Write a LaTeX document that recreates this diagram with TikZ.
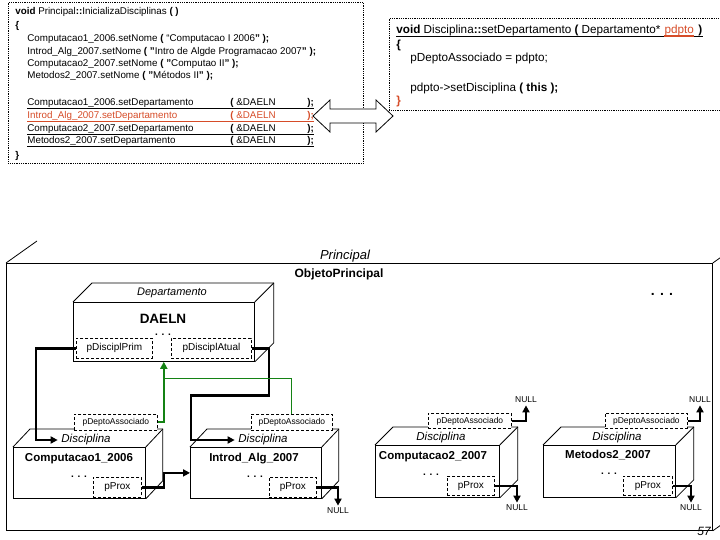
\documentclass[tikz,border=0pt]{standalone}
\usepackage{fontspec}
\setmainfont{Liberation Sans}
\usetikzlibrary{positioning,arrows.meta}

\definecolor{codered}{RGB}{214,76,40}
\definecolor{assocgreen}{RGB}{20,130,20}

% back edges of a box drawn in perspective
\newcommand{\boxdepth}[3]{%
  \draw (#1.north west) -- ++(#2,-#3) -- ([shift={(#2,-#3)}]#1.north east)
        -- ([shift={(#2,-#3)}]#1.south east) -- (#1.south east);
  \draw (#1.north east) -- ++(#2,-#3);}

\begin{document}
\begin{tikzpicture}[x=1pt,y=-1pt,line width=0.8pt]
  \tikzstyle{face} = [rectangle, draw, fill=white, inner sep=0pt, anchor=north west]
  \tikzstyle{field} = [rectangle, draw, dash pattern=on 3pt off 2pt, fill=white, inner sep=0pt, anchor=north west, font=\fontsize{10}{12}\selectfont]
  \tikzstyle{smallfield} = [field, font=\fontsize{8.5}{10}\selectfont]
  \tikzstyle{link} = [line width=2.4pt, ->, >={Triangle[length=7pt,width=7pt]}]
  \tikzstyle{assoc} = [assocgreen, line width=2pt, ->, >={Triangle[length=7pt,width=7pt]}]
  \tikzstyle{code} = [inner sep=0pt, anchor=base west, font=\fontsize{9.8}{12}\selectfont]
  \tikzstyle{codebig} = [inner sep=0pt, anchor=base west, font=\fontsize{11.7}{13}\selectfont]
  \tikzstyle{uline} = [line width=1.6pt]
  \tikzstyle{classlbl} = [font=\itshape\fontsize{11.5}{13}\selectfont]
  \tikzstyle{objname} = [font=\bfseries\fontsize{11.5}{13}\selectfont]
  \tikzstyle{more} = [font=\bfseries\fontsize{10}{12}\selectfont, inner sep=0pt]
  \tikzstyle{nulllbl} = [font=\fontsize{8.5}{9}\selectfont, inner sep=2pt]

  \useasboundingbox (0,0) rectangle (720,540);

  % code of Principal
  \node[draw, densely dotted, inner sep=0pt, anchor=north west, minimum width=355pt, minimum height=161pt] (code1) at (8,2) {};
  \node[code] (l1) at (15,15) {\textbf{void} Principal\textbf{::}InicializaDisciplinas \textbf{( )}};
  \node[code] (l2) at (15,29) {\textbf{\{}};
  \node[code] (l3) at (27,42) {Computacao1\_2006.setNome \textbf{(} “Computacao I 2006\textbf{"} \textbf{);}};
  \node[code] (l4) at (27,55) {Introd\_Alg\_2007.setNome \textbf{( "}Intro de Algde Programacao 2007\textbf{" );}};
  \node[code] (l5) at (27,67) {Computacao2\_2007.setNome \textbf{( "}Computao II\textbf{" );}};
  \node[code] (l6) at (27,79) {Metodos2\_2007.setNome \textbf{( "}Métodos II\textbf{" );}};
  \node[code] (d1) at (27,106) {\makebox[203pt][l]{Computacao1\_2006.setDepartamento}\makebox[77pt][l]{\textbf{(} \&DAELN}\textbf{);}};
  \node[code, text=codered] (d2) at (27,119) {\makebox[203pt][l]{Introd\_Alg\_2007.setDepartamento}\makebox[77pt][l]{\textbf{(} \&DAELN}\textbf{);}};
  \node[code] (d3) at (27,132) {\makebox[203pt][l]{Computacao2\_2007.setDepartamento}\makebox[77pt][l]{\textbf{(} \&DAELN}\textbf{);}};
  \node[code] (d4) at (27,144) {\makebox[203pt][l]{Metodos2\_2007.setDepartamento}\makebox[77pt][l]{\textbf{(} \&DAELN}\textbf{);}};
  \node[code] (l7) at (15,159) {\textbf{\}}};
  \draw[uline] ([yshift=-2.5pt]d1.base west) -- ([yshift=-2.5pt]d1.base east);
  \draw[uline, codered] ([yshift=-2.5pt]d2.base west) -- ([yshift=-2.5pt]d2.base east);
  \draw[uline] ([yshift=-2.5pt]d3.base west) -- ([yshift=-2.5pt]d3.base east);
  \draw[uline] ([yshift=-2.5pt]d4.base west) -- ([yshift=-2.5pt]d4.base east);

  % code of Disciplina
  \node[draw, densely dotted, inner sep=0pt, anchor=north west, minimum width=340pt, minimum height=92pt] (code2) at (389,18) {};
  \node[codebig] (s1) at (396,34) {\textbf{void} Disciplina\textbf{::}setDepartamento \textbf{(} Departamento*};
  \node[codebig, text=codered, anchor=base west] (s2) at ([xshift=3.5pt]s1.base east) {pdpto};
  \node[codebig, anchor=base west] (s3) at ([xshift=3.5pt]s2.base east) {\textbf{)}};
  \draw[uline] ([yshift=-2.5pt]s1.base west) -- ([yshift=-2.5pt]s3.base east);
  \draw[uline, codered, line width=2pt] ([yshift=-2.5pt]s2.base west) -- ([yshift=-2.5pt]s2.base east);
  \node[codebig] (s4) at (396,49) {\textbf{\{}};
  \node[codebig] (s5) at (410,62) {pDeptoAssociado = pdpto;};
  \node[codebig] (s6) at (410,92) {pdpto->setDisciplina \textbf{( this );}};
  \node[codebig, text=codered] (s7) at (396,105) {\textbf{\}}};

  % seta dupla entre os codigos
  \draw[fill=white] (313,116) -- (330,100) -- (330,109) -- (376,109) -- (376,100) -- (393,116)
    -- (376,132) -- (376,123) -- (330,123) -- (330,132) -- cycle;

  % objeto principal
  \node[face, minimum width=706pt, minimum height=267pt] (princ) at (6,263) {};
  \draw (princ.north west) -- ++(31,-22);
  \draw (princ.north east) -- ++(31,-22);
  \draw (princ.south east) -- ++(31,-22);
  \node[font=\itshape\fontsize{13}{15}\selectfont] (princlbl) at (345,256) {Principal};
  \node[font=\bfseries\fontsize{12}{14}\selectfont] (objlbl) at (339,274) {ObjetoPrincipal};
  \node[font=\bfseries\fontsize{14}{14}\selectfont, inner sep=0pt] (objmore) at (662,294) {. . .};

  % departamento
  \node[face, minimum width=181pt, minimum height=59pt] (depto) at (73,302) {};
  \boxdepth{depto}{19}{19}
  \node[font=\itshape\fontsize{11}{13}\selectfont] (deptolbl) at (172,293) {Departamento};
  \node[font=\bfseries\fontsize{13.5}{15}\selectfont] (daeln) at (163,319) {DAELN};
  \node[field, minimum width=76pt, minimum height=20pt] (prim) at (76,338) {pDisciplPrim};
  \node[field, minimum width=80pt, minimum height=20pt] (atual) at (171,338) {pDisciplAtual};
  \node[more] (deptomore) at (163,335) {. . .};

  % disciplinas
  \node[face, minimum width=132pt, minimum height=51pt] (disc1) at (13,447) {};
  \boxdepth{disc1}{17}{18}
  \node[classlbl] (lbl1) at (86,440) {Disciplina};
  \node[objname] (name1) at (79,459) {Computacao1\_2006};
  \node[more] (more1) at (79,477) {. . .};
  \node[field, minimum width=48pt, minimum height=20pt] (prox1) at (93,477) {pProx};
  \node[smallfield, minimum width=83pt, minimum height=16pt] (assoc1) at (74,414) {pDeptoAssociado};

  \node[face, minimum width=131pt, minimum height=51pt] (disc2) at (190,447) {};
  \boxdepth{disc2}{17}{18}
  \node[classlbl] (lbl2) at (263,440) {Disciplina};
  \node[objname] (name2) at (254,459) {Introd\_Alg\_2007};
  \node[more] (more2) at (255,477) {. . .};
  \node[field, minimum width=47pt, minimum height=20pt] (prox2) at (269,477) {pProx};
  \node[smallfield, minimum width=81pt, minimum height=16pt] (assoc2) at (251,414) {pDeptoAssociado};

  \node[face, minimum width=124pt, minimum height=52pt] (disc3) at (375,445) {};
  \boxdepth{disc3}{18}{18}
  \node[classlbl] (lbl3) at (441,438) {Disciplina};
  \node[objname] (name3) at (433,457) {Computacao2\_2007};
  \node[more] (more3) at (431,475) {. . .};
  \node[field, minimum width=47pt, minimum height=19pt] (prox3) at (447,476) {pProx};
  \node[smallfield, minimum width=83pt, minimum height=15pt] (assoc3) at (428,413) {pDeptoAssociado};

  \node[face, minimum width=132pt, minimum height=52pt] (disc4) at (543,445) {};
  \boxdepth{disc4}{18}{18}
  \node[classlbl] (lbl4) at (617,438) {Disciplina};
  \node[objname] (name4) at (608,455) {Metodos2\_2007};
  \node[more] (more4) at (609,474) {. . .};
  \node[field, minimum width=49pt, minimum height=19pt] (prox4) at (623,476) {pProx};
  \node[smallfield, minimum width=82pt, minimum height=15pt] (assoc4) at (605,413) {pDeptoAssociado};

  \node[nulllbl] (null2) at (338,511) {NULL};
  \node[nulllbl] (null3) at (517,508) {NULL};
  \node[nulllbl] (null4) at (691,508) {NULL};
  \node[nulllbl] (nulla3) at (526,400) {NULL};
  \node[nulllbl] (nulla4) at (700,400) {NULL};

  \node[font=\itshape\fontsize{12}{12}\selectfont, inner sep=0pt] (pgnum) at (704,531) {57};

  % ligacoes
  \draw[link] (prim.west) -- ++(-40,0) |- (lbl1.west);
  \draw[link] (atual.east) -- ++(17,0) -- ++(0,47) -- ++(-78,0) |- (lbl2.west);
  \draw[link] (prox1.east) -- ++(22,0) |- (disc2.west);
  \draw[link] (prox2.east) -| (null2.north);
  \draw[link] (prox3.east) -| (null3.north);
  \draw[link] (prox4.east) -| (null4.north);
  \draw[link] (assoc3.east) -| (nulla3.south);
  \draw[link] (assoc4.east) -| (nulla4.south);
  \draw[assoc] (assoc1.east) -- ++(6,0) coordinate (gbend) -- (gbend |- depto.south);
  \draw[assocgreen, line width=1pt] (assoc2.north) -- ++(0,-36) -| (gbend);
\end{tikzpicture}
\end{document}
